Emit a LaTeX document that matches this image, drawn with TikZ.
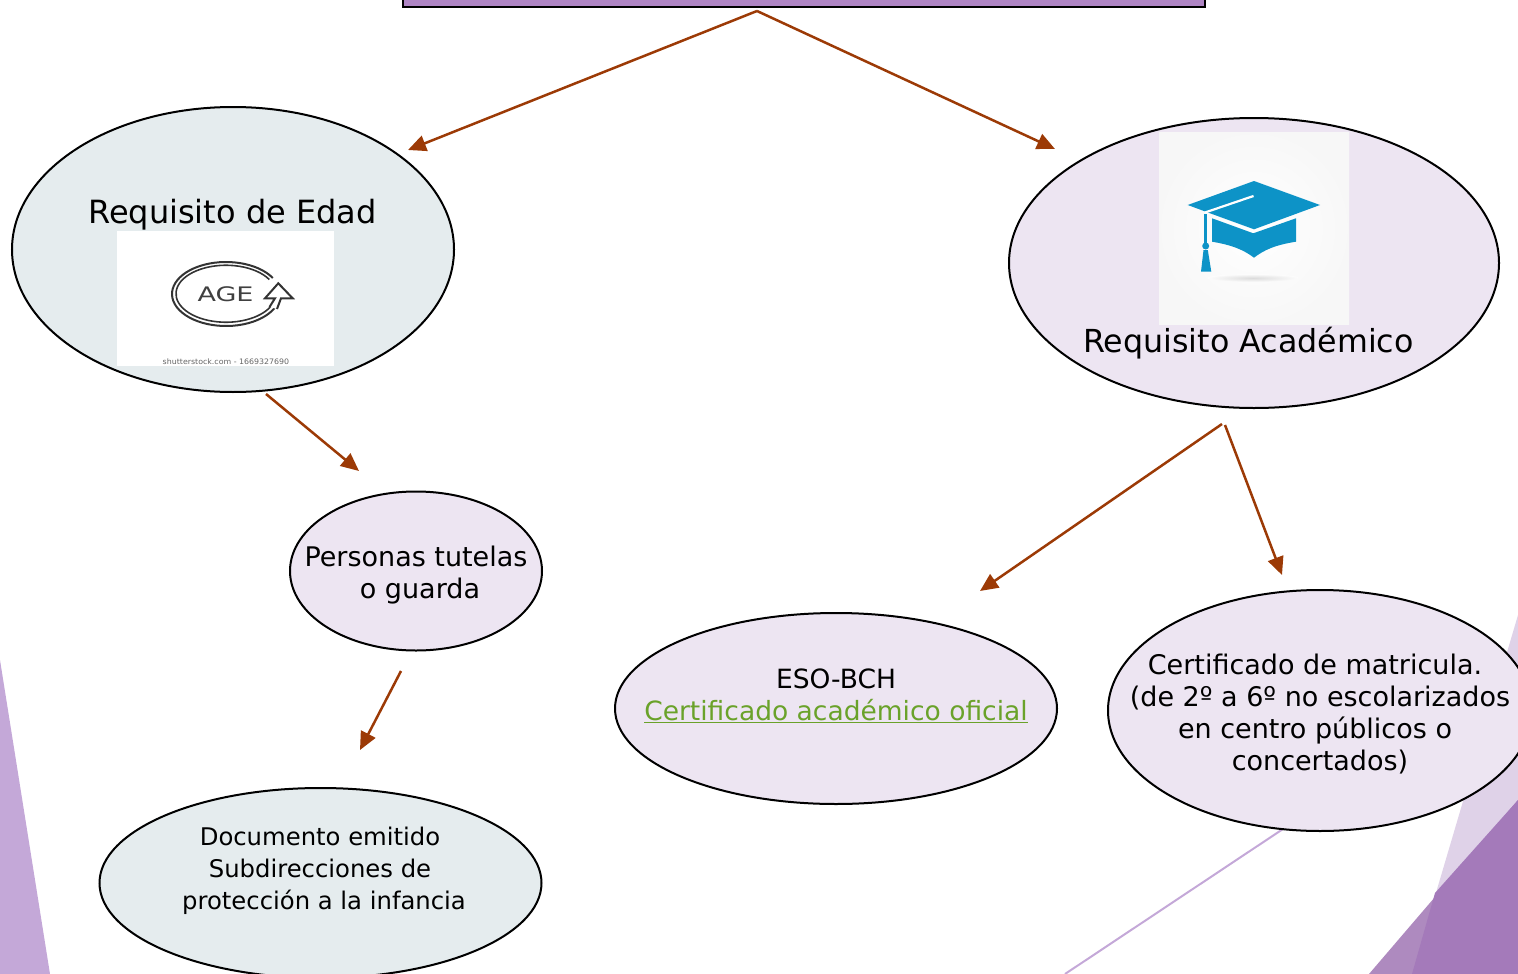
\documentclass[tikz,border=0pt]{standalone}
\usepackage{fontspec}
\setmainfont{DejaVu Sans}
\usetikzlibrary{arrows.meta,shapes.geometric}
\definecolor{arrowred}{HTML}{9C3A06}
\definecolor{palelilac}{HTML}{EDE5F2}
\definecolor{palegrey}{HTML}{E5ECEE}
\definecolor{boxpurple}{HTML}{AF85C4}
\definecolor{trilight}{HTML}{C4A8D8}
\definecolor{trifaint}{HTML}{DFD2E8}
\definecolor{trimid}{HTML}{AE8ABF}
\definecolor{tridark}{HTML}{A47ABA}
\definecolor{capblue}{HTML}{0D93C7}
\definecolor{linkgreen}{HTML}{6AA22A}
\tikzset{
	bubble/.style={ellipse,draw=black,line width=2pt,inner sep=0pt},
	lilac/.style={bubble,fill=palelilac},
	grey/.style={bubble,fill=palegrey},
	link/.style={-{Triangle[length=18pt,width=16pt]},draw=arrowred,line width=2.5pt},
	bigtext/.style={inner sep=0pt,align=center,font=\fontsize{32}{38}\selectfont},
	midtext/.style={inner sep=0pt,align=center,font=\fontsize{27}{32}\selectfont},
	smalltext/.style={inner sep=0pt,align=center,font=\fontsize{24.3}{32}\selectfont},
}
\begin{document}
\begin{tikzpicture}[x=1pt,y=-1pt]
	\useasboundingbox (0,0) rectangle (1518,974);
	\clip (0,0) rectangle (1518,974);

	% background corners
	\fill[trilight] (0,660) -- (50,974) -- (0,974) -- cycle;
	\fill[trifaint] (1518,615) -- (1412,974) -- (1518,974) -- cycle;
	\fill[trimid] (1518,800) -- (1369,974) -- (1518,974) -- cycle;
	\fill[tridark] (1435,893) -- (1412,974) -- (1518,974) -- (1518,800) -- cycle;
	\coordinate (linetop) at (1295,821);
	\coordinate (linebot) at (1065,974);
	\draw[trilight,line width=2pt] (linetop) -- (linebot);

	\node[draw=black,fill=boxpurple,line width=2pt,minimum width=802pt,minimum height=54pt,inner sep=0pt] (titlebox) at (804,-20) {};

	\node[grey,minimum width=442pt,minimum height=285pt] (edad) at (233,249.5) {};
	\node[lilac,minimum width=490pt,minimum height=290pt] (academico) at (1254,263) {};
	\node[lilac,minimum width=252pt,minimum height=159pt] (tutelas) at (416,571) {};
	\node[grey,minimum width=442pt,minimum height=190pt] (documento) at (320.5,883) {};
	\node[lilac,minimum width=442pt,minimum height=191pt] (eso) at (836,708.5) {};
	\node[lilac,minimum width=424pt,minimum height=241pt] (matricula) at (1320,710.5) {};

	% age picture
	\fill[white] (117,231) rectangle (334,366);
	\draw[black!80,line width=2pt] (272.8,278) arc[start angle=-30,end angle=-335,x radius=54,y radius=32];
	\draw[black!80,line width=1.6pt] (269.3,279.5) arc[start angle=-30,end angle=-335,x radius=50,y radius=28.5];
	\draw[black!80,line width=2pt,fill=white] (269.5,307) -- (275,298.3) -- (265,298.3) -- (278.3,283.3) -- (292.7,298.3) -- (281,298.3) -- (277,309);
	\node[inner sep=0pt,text=black!75,font=\fontsize{20}{20}\selectfont] (agetext) at (225.5,294) {\scalebox{1.35}[1]{AGE}};
	\node[inner sep=0pt,text=black!60,font=\fontsize{7.5}{8}\selectfont] (stocktext) at (226,361.5) {\scalebox{1.05}[1]{shutterstock.com - 1669327690}};

	% cap picture
	\shade[inner color=white,outer color=black!3] (1159,132) rectangle (1349,324);
	\shade[inner color=black!14,outer color=black!1] (1253,278) ellipse [x radius=46,y radius=4];
	\fill[capblue] (1212,218.3) -- (1253.3,233.3) -- (1296,218.3) -- (1296,241.7) .. controls (1275,245) and (1264,250) .. (1254,257.7) .. controls (1244,250) and (1232,245) .. (1212,241.7) -- cycle;
	\fill[capblue] (1187.7,205) -- (1254,181) -- (1320,205) -- (1254,229.3) -- (1212,214) -- cycle;
	\draw[white,line width=2.2pt] (1253.5,196) -- (1205,212.5);
	\draw[capblue,line width=2.5pt] (1205.7,214) -- (1205.7,244);
	\fill[capblue] (1205.7,246) circle (3.5);
	\fill[capblue] (1203.5,250) -- (1207.8,250) -- (1211.3,271.7) -- (1201,271.7) -- cycle;

	\node[bigtext] (edadtext) at (232.5,215) {Requisito de Edad};
	\node[bigtext,font=\fontsize{31.7}{38}\selectfont] (academicotext) at (1248.5,343) {Requisito Académico};
	\node[midtext] (tutelastext) at (416,575) {Personas tutelas\\\hspace*{8pt}o guarda};
	\node[smalltext] (documentotext) at (320,871) {Documento emitido\\Subdirecciones de\\\hspace*{8pt}protección a la infancia};
	\node[midtext,font=\fontsize{26.5}{32}\selectfont] (esotext) at (836,696) {ESO-BCH\\\textcolor{linkgreen}{\underline{Certificado académico oficial}}};
	\node[midtext] (matriculatext) at (1320,714.5) {\hspace*{-10pt}Certificado de matricula.\\(de 2º a 6º no escolarizados\\\hspace*{-10pt}en centro públicos o\\concertados)};

	\coordinate (top) at (757,11);
	\coordinate (edadend) at (408,150);
	\coordinate (academicoend) at (1055,149);
	\coordinate (edadout) at (266,394);
	\coordinate (tutelasend) at (359,471);
	\coordinate (tutelasout) at (401,671);
	\coordinate (documentoend) at (360,750);
	\coordinate (leftout) at (1222,424);
	\coordinate (esoend) at (980,591);
	\coordinate (rightout) at (1225,425);
	\coordinate (matriculaend) at (1282,575);

	\draw[link] (top) -- (edadend);
	\draw[link] (top) -- (academicoend);
	\draw[link] (edadout) -- (tutelasend);
	\draw[link] (tutelasout) -- (documentoend);
	\draw[link] (leftout) -- (esoend);
	\draw[link] (rightout) -- (matriculaend);
\end{tikzpicture}
\end{document}
